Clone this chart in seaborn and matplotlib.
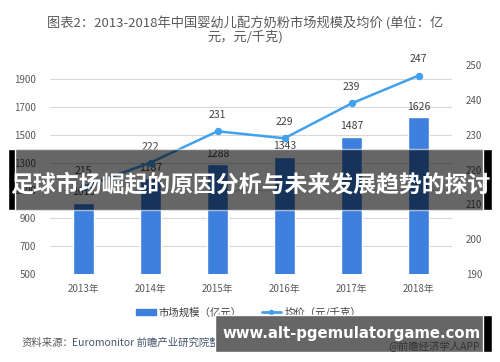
import matplotlib
matplotlib.use('Agg')
import matplotlib.pyplot as plt
import matplotlib.patches as mpatches
from matplotlib.lines import Line2D
import seaborn as sns
import pandas as pd

# dati
anni = ['2013年', '2014年', '2015年', '2016年', '2017年', '2018年']
mercato = [1013, 1187, 1288, 1343, 1487, 1626]   # 亿元
prezzo = [215, 222, 231, 229, 239, 247]          # 元/千克

col_barre = '#3d80de'
col_linea = '#42a1ec'
grigio = '#595959'

sns.set_theme(style='white')
plt.rcParams['font.family'] = ['Noto Sans CJK SC', 'DejaVu Sans']

df = pd.DataFrame({'anno': anni, 'mercato': mercato, 'prezzo': prezzo})

fig = plt.figure(figsize=(5, 3.62), dpi=100)
ax = fig.add_axes([0.1, 0.243, 0.804, 0.577])

sns.barplot(data=df, x='anno', y='mercato', color=col_barre, width=0.31,
            saturation=1, ax=ax)
ax.set_ylim(500, 2000)
ax.set_yticks(range(500, 2000, 200))
ax.grid(axis='y', color='#d9d9d9', linewidth=0.8)
ax.set_axisbelow(True)
for s in ax.spines.values():
    s.set_visible(False)
ax.set_xlabel('')
ax.set_ylabel('')
ax.tick_params(axis='both', length=0, labelsize=7, labelcolor=grigio)
ax.tick_params(axis='y', pad=10)
ax.tick_params(axis='x', pad=7)
for c in ax.containers:
    ax.bar_label(c, labels=[str(v) for v in mercato], padding=4, fontsize=7.5, color='#404040')

ax2 = ax.twinx()
sns.pointplot(data=df, x='anno', y='prezzo', color=col_linea, markers='o',
              markersize=4, linewidth=1.8, ax=ax2)
ax2.set_ylim(190, 250)
ax2.set_yticks(range(190, 251, 10))
for s in ax2.spines.values():
    s.set_visible(False)
ax2.set_ylabel('')
ax2.tick_params(axis='y', length=0, labelsize=7, labelcolor=grigio, pad=10)
for i, v in enumerate(prezzo):
    ax2.annotate(str(v), (i, v), xytext=(0, 8), textcoords='offset points',
                 ha='center', va='bottom', fontsize=7.5, color='#404040')

# titolo
fig.text(0.49, 0.955, '图表2：2013-2018年中国婴幼儿配方奶粉市场规模及均价 (单位：亿\n元，元/千克)',
         ha='center', va='top', fontsize=9.5, color=grigio, linespacing=0.95)

# legenda
handles = [mpatches.Patch(color=col_barre, label='市场规模（亿元）'),
           Line2D([0], [0], color=col_linea, marker='o', markersize=3, linewidth=2,
                  label='均价（元/千克）')]
fig.legend(handles=handles, loc='center', bbox_to_anchor=(0.497, 0.138), ncol=2,
           frameon=False, fontsize=7.5, handlelength=1.9, handletextpad=0.3,
           columnspacing=1.9, labelcolor='#404040', handleheight=0.5)

# fonte
fig.text(0.044, 0.052, '资料来源：', fontsize=7.5, color=grigio, va='center')
fig.text(0.145, 0.052, 'Euromonitor 前瞻产业研究院整理', fontsize=7.5, color='#44546a', va='center')

# banner sovrapposti
fig.patches.append(mpatches.Rectangle((0.016, 0.42), 0.968, 0.169, transform=fig.transFigure,
                                      facecolor='black', alpha=0.6, zorder=10))
fig.patches.append(mpatches.Rectangle((0.016, 0.42), 0.014, 0.169, transform=fig.transFigure,
                                      facecolor='black', zorder=10))
fig.patches.append(mpatches.Rectangle((0.966, 0.42), 0.018, 0.169, transform=fig.transFigure,
                                      facecolor='black', zorder=10))
fig.text(0.5, 0.49, '足球市场崛起的原因分析与未来发展趋势的探讨', ha='center', va='center',
         fontsize=16.5, color='white', fontweight='bold', zorder=11)

fig.patches.append(mpatches.Rectangle((0.43, 0.028), 0.554, 0.102, transform=fig.transFigure,
                                      facecolor='#666666', zorder=10))
fig.patches.append(mpatches.Rectangle((0.966, 0.028), 0.018, 0.102, transform=fig.transFigure,
                                      facecolor='black', zorder=10))
fig.text(0.703, 0.079, 'www.alt-pgemulatorgame.com', ha='center', va='center',
         fontsize=10.7, color='white', fontweight='bold', zorder=11,
         family=['DejaVu Sans'])
fig.text(0.96, 0.045, '@前瞻经济学人APP', fontsize=7.5, color='#333333', va='center',
         ha='right', zorder=12)

fig.savefig('out.png', dpi=100)
